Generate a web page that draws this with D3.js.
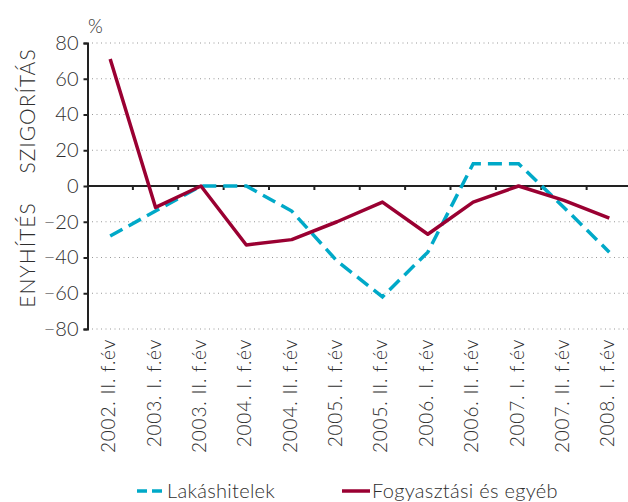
<!DOCTYPE html>
<html>
<head>
<meta charset="utf-8">
<script src="https://cdn.jsdelivr.net/npm/d3@7"></script>
<style>
  body { margin: 0; background: #fff; }
  text { font-family: Lato, "Open Sans", sans-serif; fill: #2e2e2e; font-weight: 300; }
</style>
</head>
<body>
<div id="chart"></div>
<script>
var categories = ["2002. II. f.év", "2003. I. f.év", "2003. II. f.év", "2004. I. f.év",
    "2004. II. f.év", "2005. I. f.év", "2005. II. f.év", "2006. I. f.év",
    "2006. II. f.év", "2007. I. f.év", "2007. II. f.év", "2008. I. f.év"];
var lakashitelek = [-28, -14, 0, 0, -14, -42, -62, -37, 12.5, 12.5, -12, -37];
var fogyasztasi = [71, -12, 0, -33, -30, -20, -9, -27, -9, 0, -8, -18];
var yTicks = [80, 60, 40, 20, 0, -20, -40, -60, -80];

function init() {
    var w = 628;
    var h = 502;
    var left = 87.5, right = 632, top = 43, bottom = 329;

    var svg = d3.select("#chart")
        .append("svg")
        .attr("width", w)
        .attr("height", h);

    var x = d3.scaleBand().domain(categories).range([left, right]);
    var y = d3.scaleLinear().domain([-80, 80]).range([bottom, top]);

    // dotted grid
    svg.selectAll("line.grid")
        .data(yTicks.filter(function (d) { return d !== 0; }))
        .enter()
        .append("line")
        .attr("class", "grid")
        .attr("x1", left)
        .attr("x2", w)
        .attr("y1", function (d) { return y(d); })
        .attr("y2", function (d) { return y(d); })
        .attr("stroke", "#999")
        .attr("stroke-width", 1)
        .attr("stroke-dasharray", "1,3.5");

    // y axis
    var yAxis = d3.axisLeft(y)
        .tickValues(yTicks)
        .tickSize(4)
        .tickFormat(function (d) { return d < 0 ? "\u2212" + Math.abs(d) : d; });
    var ya = svg.append("g")
        .attr("transform", "translate(" + left + ",0)")
        .call(yAxis);
    ya.select(".domain").attr("stroke", "#222").attr("stroke-width", 2);
    ya.selectAll(".tick line").attr("stroke", "#222").attr("stroke-width", 2);
    ya.selectAll(".tick text")
        .attr("x", -9)
        .attr("font-size", "20px")
        .attr("font-family", "Lato, sans-serif")
        .attr("font-weight", 300)
        .attr("fill", "#2e2e2e");

    // zero line with ticks between categories
    svg.append("line")
        .attr("x1", left)
        .attr("x2", w)
        .attr("y1", y(0))
        .attr("y2", y(0))
        .attr("stroke", "#222")
        .attr("stroke-width", 2);
    svg.selectAll("line.xtick")
        .data(categories.slice(1))
        .enter()
        .append("line")
        .attr("class", "xtick")
        .attr("x1", function (d) { return x(d); })
        .attr("x2", function (d) { return x(d); })
        .attr("y1", y(0))
        .attr("y2", y(0) + 4)
        .attr("stroke", "#222")
        .attr("stroke-width", 2);

    // x labels
    svg.selectAll("text.xlab")
        .data(categories)
        .enter()
        .append("text")
        .attr("class", "xlab")
        .text(function (d) { return d; })
        .attr("transform", function (d) {
            return "translate(" + (x(d) + x.bandwidth() / 2 + 5) + ",339) rotate(-90)";
        })
        .attr("text-anchor", "end")
        .attr("font-size", "19px")
        .attr("letter-spacing", "0.8px");

    // lines
    var line = d3.line()
        .x(function (d, i) { return x(categories[i]) + x.bandwidth() / 2; })
        .y(function (d) { return y(d); });

    svg.append("path")
        .datum(lakashitelek)
        .attr("d", line)
        .attr("fill", "none")
        .attr("stroke", "#00a9c8")
        .attr("stroke-width", 3.5)
        .attr("stroke-dasharray", "14,7");

    svg.append("path")
        .datum(fogyasztasi)
        .attr("d", line)
        .attr("fill", "none")
        .attr("stroke", "#9a0032")
        .attr("stroke-width", 3.5)
        .attr("stroke-linejoin", "round");

    // labels
    svg.append("text").text("%").attr("x", 88).attr("y", 33).attr("font-size", "19px");
    svg.append("text").text("SZIGORÍTÁS")
        .attr("transform", "translate(35,111) rotate(-90)")
        .attr("text-anchor", "middle")
        .attr("font-size", "21px")
        .attr("letter-spacing", "1px");
    svg.append("text").text("ENYHÍTÉS")
        .attr("transform", "translate(35,255) rotate(-90)")
        .attr("text-anchor", "middle")
        .attr("font-size", "21px")
        .attr("letter-spacing", "1px");

    // legend
    var legend = [
        { name: "Lakáshitelek", color: "#00a9c8", dash: "10,5", x: 137 },
        { name: "Fogyasztási és egyéb", color: "#9a0032", dash: null, x: 342 }
    ];
    var lg = svg.selectAll("g.legend")
        .data(legend)
        .enter()
        .append("g")
        .attr("class", "legend")
        .attr("transform", function (d) { return "translate(" + d.x + ",491)"; });
    lg.append("line")
        .attr("x1", 0).attr("x2", 28)
        .attr("y1", 0).attr("y2", 0)
        .attr("stroke", function (d) { return d.color; })
        .attr("stroke-width", 3.5)
        .attr("stroke-dasharray", function (d) { return d.dash; });
    lg.append("text")
        .text(function (d) { return d.name; })
        .attr("x", 30)
        .attr("y", 7)
        .attr("font-size", "20px")
        .attr("letter-spacing", "0.3px");
}
window.onload = init;
</script>
</body>
</html>
